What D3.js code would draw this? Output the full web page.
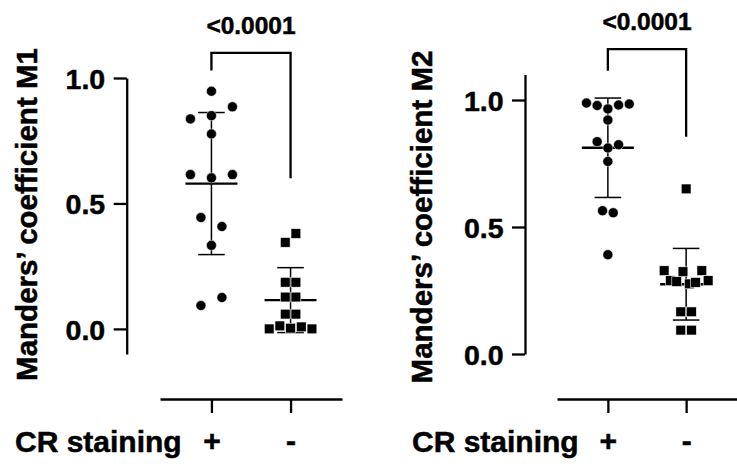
<!DOCTYPE html>
<html>
<head>
<meta charset="utf-8">
<script src="https://cdn.jsdelivr.net/npm/d3@7"></script>
<style>
  body { margin: 0; background: #fff; }
  svg { font-family: 'Liberation Sans', Arial, sans-serif; font-weight: bold; }
  svg text { stroke: #000; stroke-width: 0.5px; }
</style>
</head>
<body>
<svg id="chart" width="737" height="467"></svg>
<script>
// Column scatter of Manders' coefficients, CR+ vs CR- cells

// Groups
const groups = ['+', '-'];

// M1 values (within a row, listed left to right as they are drawn)
const m1_pos = [0.947, 0.837, 0.850, 0.885, 0.777, 0.615, 0.602, 0.615, 0.444, 0.408, 0.333, 0.093, 0.125];
const m1_neg = [0.345, 0.380, 0.186, 0.186, 0.127, 0.127, 0.059, 0.059, 0.0, 0.012, 0.003, 0.008, 0.0];

// M2 values
const m2_pos = [0.988, 0.978, 0.965, 0.980, 0.984, 0.921, 0.836, 0.811, 0.824, 0.758, 0.564, 0.556, 0.391];
const m2_neg = [0.650, 0.328, 0.289, 0.285, 0.324, 0.276, 0.282, 0.328, 0.289, 0.166, 0.166, 0.094, 0.094];

// Axis ticks
const m1_ticks = [0.0, 0.5, 1.0];
const m2_ticks = [0.0, 0.5, 1.0];

// Significance bracket: bar level, left leg end, right leg end
const m1_bracket = [1.1, 1.03, 0.6];
const m2_bracket = [1.2, 1.115, 0.855];
const p_text = '<0.0001';

const row_gap = 10;
const max_half = 22;

const panels = [
  {
    values: [m1_pos, m1_neg],
    ticks: m1_ticks,
    bracket: m1_bracket,
    title: 'Manders\u2019 coefficient M1',
    domain: [-0.1, 1.0],
    yRange: [354, 78],
    xRange: [160, 342],
    axisX: 126.7,
    labelX: 37,
    labelY: 214.5,
    crX: 15,
    step: [21, 10.7],
  },
  {
    values: [m2_pos, m2_neg],
    ticks: m2_ticks,
    bracket: m2_bracket,
    title: 'Manders\u2019 coefficient M2',
    domain: [0, 1.1],
    yRange: [354, 74.6],
    xRange: [557, 737],
    axisX: 525,
    labelX: 432,
    labelY: 217,
    crX: 412,
    step: [10.7, 10.7],
  },
];

const svg = d3.select('#chart');

// Spread points of similar value side by side in rows
function Spread(values, y, step) {
  const order = d3.range(values.length).sort((a, b) => values[b] - values[a] || a - b);
  const rows = [];
  let row = [];
  let last = null;
  order.forEach((i) => {
    if (last !== null && Math.abs(y(values[i]) - y(values[last])) >= row_gap) {
      rows.push(row);
      row = [];
    }
    row.push(i);
    last = i;
  });
  rows.push(row);
  const dx = new Array(values.length).fill(0);
  rows.forEach((r) => {
    r.sort((a, b) => a - b);
    const s = r.length > 1 ? Math.min(step, (2 * max_half) / (r.length - 1)) : 0;
    r.forEach((i, k) => {
      dx[i] = (k - (r.length - 1) / 2) * s;
    });
  });
  return dx;
}

function DrawPanel(p) {
  const g = svg.append('g');
  const y = d3.scaleLinear().domain(p.domain).range(p.yRange);
  const x = d3.scalePoint().domain(groups).range(p.xRange).padding(0.65);

  // Y axis
  const yAxis = g
    .append('g')
    .attr('transform', `translate(${p.axisX},0)`)
    .call(d3.axisLeft(y).tickValues(p.ticks).tickFormat(d3.format('.1f')).tickSize(13).tickSizeOuter(0).tickPadding(8.5));
  yAxis.selectAll('path, line').attr('stroke', '#000').attr('stroke-width', 2.3);
  yAxis.selectAll('text').attr('fill', '#000').style('font-size', '28.5px').attr('dy', '0.36em');

  // X axis
  const xAxis = g
    .append('g')
    .attr('transform', 'translate(0,399)')
    .call(d3.axisBottom(x).tickSize(14).tickSizeOuter(0).tickPadding(17));
  xAxis.selectAll('path, line').attr('stroke', '#000').attr('stroke-width', 2.3);
  xAxis.selectAll('text').attr('fill', '#000').style('font-size', '30px');

  g.append('text')
    .attr('x', p.crX)
    .attr('y', 452)
    .style('font-size', '30px')
    .text('CR staining');

  // Y title
  g.append('text')
    .attr('transform', `translate(${p.labelX},${p.labelY}) rotate(-90)`)
    .attr('text-anchor', 'middle')
    .style('font-size', '29.5px')
    .text(p.title);

  groups.forEach((grp, gi) => {
    const vals = p.values[gi];
    const cx = x(grp);
    const mean = d3.mean(vals);
    const sd = d3.deviation(vals);

    // Mean and SD
    const bars = g.append('g').attr('stroke', '#000');
    bars.append('line')
      .attr('x1', cx).attr('x2', cx)
      .attr('y1', y(mean + sd)).attr('y2', y(mean - sd))
      .attr('stroke-width', 1.5);
    [mean + sd, mean - sd].forEach((v) => {
      bars.append('line')
        .attr('x1', cx - 13.3).attr('x2', cx + 13.3)
        .attr('y1', y(v)).attr('y2', y(v))
        .attr('stroke-width', 1.5);
    });
    bars.append('line')
      .attr('x1', cx - 26).attr('x2', cx + 26)
      .attr('y1', y(mean)).attr('y2', y(mean))
      .attr('stroke-width', 2.3);

    // Points
    const dx = Spread(vals, y, p.step[gi]);
    if (gi === 0) {
      g.append('g')
        .selectAll('circle')
        .data(vals)
        .enter()
        .append('circle')
        .attr('cx', (d, i) => cx + dx[i])
        .attr('cy', (d) => y(d))
        .attr('r', 5)
        .attr('fill', '#000')
        .attr('stroke', '#fff')
        .style('stroke-width', '0.5px');
    } else {
      g.append('g')
        .selectAll('rect')
        .data(vals)
        .enter()
        .append('rect')
        .attr('x', (d, i) => cx + dx[i] - 4.9)
        .attr('y', (d) => y(d) - 4.9)
        .attr('width', 9.8)
        .attr('height', 9.8)
        .attr('fill', '#000')
        .attr('stroke', '#fff')
        .style('stroke-width', '0.6px');
    }
  });

  // Significance bracket
  const x0 = x(groups[0]);
  const x1 = x(groups[1]);
  g.append('path')
    .attr('d', `M${x0},${y(p.bracket[1])}V${y(p.bracket[0])}H${x1}V${y(p.bracket[2])}`)
    .attr('fill', 'none')
    .attr('stroke', '#000')
    .attr('stroke-width', 2.3);
  g.append('text')
    .attr('x', (x0 + x1) / 2)
    .attr('y', y(p.bracket[0]) - 19)
    .attr('text-anchor', 'middle')
    .style('font-size', '24.5px')
    .text(p_text);
}

panels.forEach(DrawPanel);
</script>
</body>
</html>
